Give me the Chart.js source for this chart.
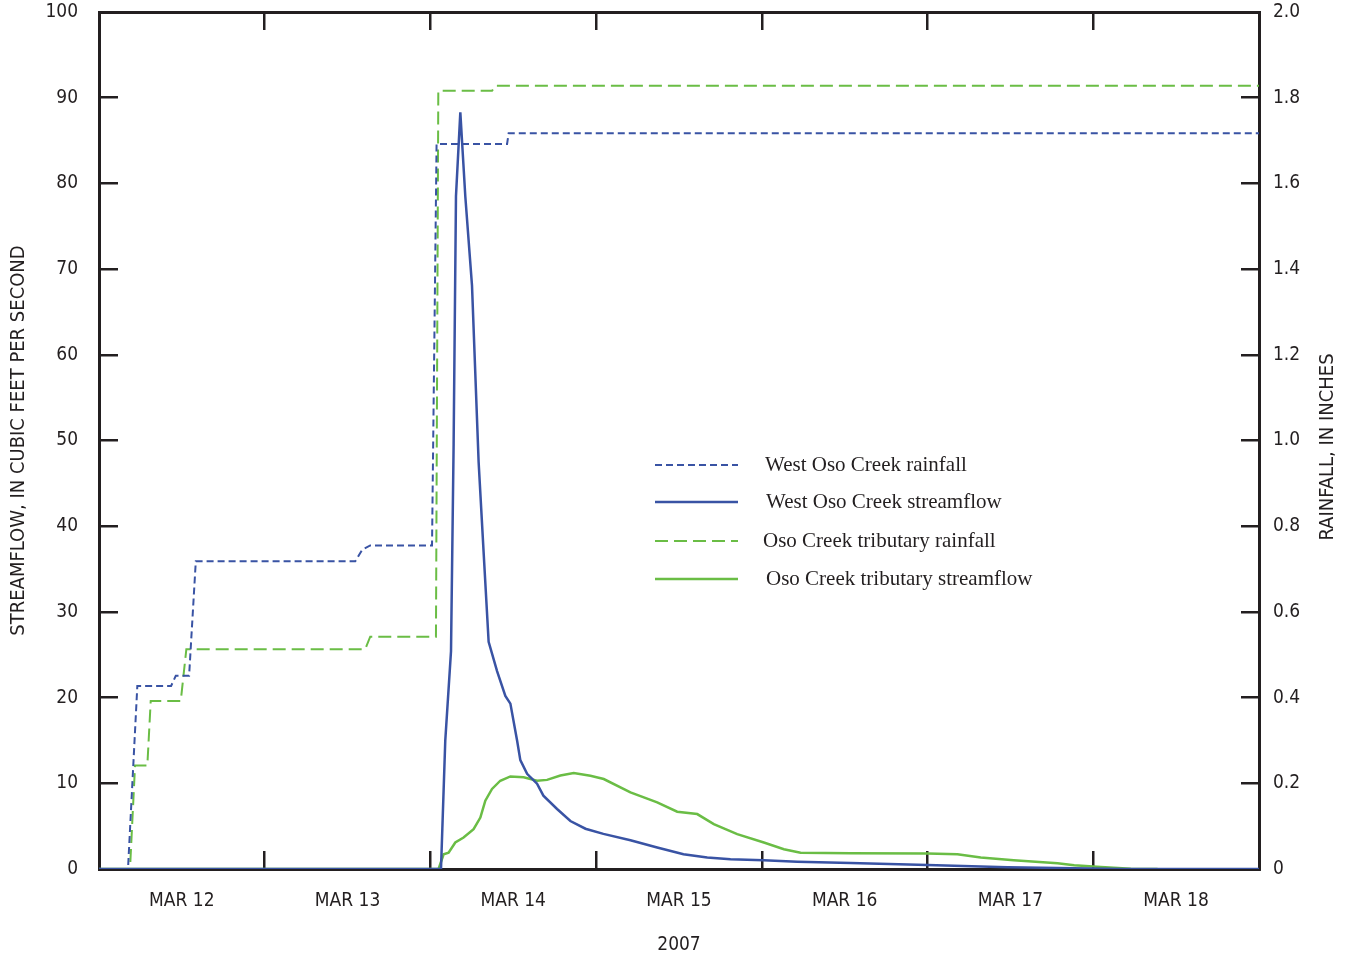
<!DOCTYPE html>
<html>
<head>
<meta charset="utf-8">
<title>West Oso Creek rainfall and streamflow, March 2007</title>
<script src="https://cdn.jsdelivr.net/npm/chart.js@4.4.1/dist/chart.umd.min.js"></script>
<style>
  html, body { margin: 0; padding: 0; background: #fff; }
  #wrap { position: relative; width: 1351px; height: 958px; }
</style>
</head>
<body>
<div id="wrap"><canvas id="flow"></canvas></div>
<script>
// hours since MAR 12 00:00
const dayLabels = ["MAR 12", "MAR 13", "MAR 14", "MAR 15", "MAR 16", "MAR 17", "MAR 18", ""];
const flowTickLabels = ["0", "10", "20", "30", "40", "50", "60", "70", "80", "90", "100"];
const rainTickLabels = ["0", "0.2", "0.4", "0.6", "0.8", "1.0", "1.2", "1.4", "1.6", "1.8", "2.0"];

const westRainHours = [0, 4.2, 5.55, 10.44, 11.12, 13.05, 14.02, 37.11, 38.12, 39.28, 48.23, 48.89, 59.1, 59.33, 168];
const westRainInches = [0, 0, 0.427, 0.427, 0.451, 0.451, 0.718, 0.718, 0.745, 0.755, 0.755, 1.692, 1.692, 1.717, 1.717];

const westFlowHours = [0, 49.53, 50.15, 50.98, 51.36, 51.7, 52.33, 53.05, 54.02, 54.98, 55.7, 56.43, 57.65, 58.85, 59.58, 60.55, 61.02, 62.0, 63.44, 64.36, 66.34, 68.27, 70.45, 73.05, 76.97, 80.84, 84.65, 88.09, 91.46, 96.25, 101.13, 108.86, 119.98, 131.57, 141.18, 148.43, 168];
const westFlowCfs = [0, 0, 15.0, 25.4, 49.6, 78.5, 88.3, 78.5, 68.1, 47.5, 37.0, 26.5, 23.1, 20.2, 19.3, 15.0, 12.7, 11.1, 9.95, 8.56, 7.0, 5.6, 4.7, 4.1, 3.36, 2.5, 1.72, 1.33, 1.13, 1.02, 0.86, 0.7, 0.47, 0.2, 0.1, 0, 0];

const tribRainHours = [0, 4.49, 5.22, 7.0, 7.49, 11.84, 12.65, 38.56, 39.28, 48.8, 49.14, 56.92, 57.4, 168];
const tribRainInches = [0, 0, 0.2415, 0.2415, 0.392, 0.392, 0.513, 0.513, 0.542, 0.542, 1.816, 1.816, 1.828, 1.828];

const tribFlowHours = [0, 49.18, 49.91, 50.63, 51.6, 52.8, 54.25, 55.23, 55.95, 56.92, 58.12, 59.58, 61.5, 63.44, 64.89, 66.82, 68.75, 71.17, 73.1, 76.97, 80.84, 83.74, 86.64, 89.04, 92.43, 96.29, 99.19, 101.61, 108.86, 119.98, 124.32, 127.7, 132.48, 138.82, 141.23, 145.09, 149.44, 153.31];
const tribFlowCfs = [0, 0, 1.72, 1.91, 3.09, 3.67, 4.65, 6.0, 7.97, 9.34, 10.3, 10.8, 10.7, 10.3, 10.4, 10.9, 11.2, 10.87, 10.5, 8.95, 7.78, 6.68, 6.41, 5.24, 4.07, 3.09, 2.31, 1.91, 1.83, 1.8, 1.72, 1.33, 1.02, 0.67, 0.43, 0.23, 0.04, 0];

const BLUE = "#3953a4";
const GREEN = "#6abd45";
const INK = "#231f20";
const SANS = "'Liberation Sans Narrow', 'DejaVu Sans Condensed', 'Roboto', sans-serif";
const SERIF = "'Liberation Serif', 'DejaVu Serif', serif";

function toPoints(xs, ys) {
  return xs.map((x, i) => ({ x: x, y: ys[i] }));
}

// fixed box sizes; tick padding must not leak into the layout
function fixSize(w, h) {
  return function (scale) {
    if (w !== null) scale.width = w;
    if (h !== null) scale.height = h;
    scale.paddingTop = 0;
    scale.paddingBottom = 0;
    scale.paddingLeft = 0;
    scale.paddingRight = 0;
  };
}

// legend sits inside the plot, drawn from the datasets
const insideLegend = {
  id: "insideLegend",
  afterDraw(chart) {
    const ctx = chart.ctx;
    const rows = [465, 502, 541, 579];
    const textX = [765, 766, 763, 766];
    ctx.save();
    chart.data.datasets.forEach((ds, i) => {
      ctx.beginPath();
      ctx.setLineDash(ds.borderDash || []);
      ctx.strokeStyle = ds.borderColor;
      ctx.lineWidth = ds.borderWidth;
      ctx.moveTo(655, rows[i]);
      ctx.lineTo(738, rows[i]);
      ctx.stroke();
      ctx.setLineDash([]);
      ctx.fillStyle = INK;
      ctx.font = "21px " + SERIF;
      ctx.textBaseline = "middle";
      ctx.textAlign = "left";
      ctx.fillText(ds.label, textX[i], rows[i]);
    });
    // right axis title reads bottom to top
    ctx.translate(1328, 447);
    ctx.rotate(-Math.PI / 2);
    ctx.font = "20px " + SANS;
    ctx.textAlign = "center";
    ctx.textBaseline = "middle";
    ctx.fillText("RAINFALL, IN INCHES", 0, 0);
    ctx.restore();
  },
};

const lineStyle = { pointRadius: 0, tension: 0, fill: false };

new Chart(document.getElementById("flow"), {
  type: "line",
  data: {
    datasets: [
      {
        ...lineStyle,
        label: "West Oso Creek rainfall",
        data: toPoints(westRainHours, westRainInches),
        borderColor: BLUE,
        backgroundColor: BLUE,
        borderWidth: 2,
        borderDash: [7, 4],
        yAxisID: "y1",
      },
      {
        ...lineStyle,
        label: "West Oso Creek streamflow",
        data: toPoints(westFlowHours, westFlowCfs),
        borderColor: BLUE,
        backgroundColor: BLUE,
        borderWidth: 2.5,
        yAxisID: "y",
      },
      {
        ...lineStyle,
        label: "Oso Creek tributary rainfall",
        data: toPoints(tribRainHours, tribRainInches),
        borderColor: GREEN,
        backgroundColor: GREEN,
        borderWidth: 2,
        borderDash: [13, 6],
        yAxisID: "y1",
      },
      {
        ...lineStyle,
        label: "Oso Creek tributary streamflow",
        data: toPoints(tribFlowHours, tribFlowCfs),
        borderColor: GREEN,
        backgroundColor: GREEN,
        borderWidth: 2.5,
        yAxisID: "y",
      },
    ],
  },
  options: {
    responsive: true,
    maintainAspectRatio: false,
    animation: false,
    layout: { padding: 0 },
    plugins: {
      legend: { display: false },
      tooltip: { enabled: false },
    },
    scales: {
      x: {
        type: "linear",
        position: "bottom",
        min: 0,
        max: 168,
        afterFit: fixSize(null, 89),
        ticks: {
          stepSize: 24,
          autoSkip: false,
          maxRotation: 0,
          labelOffset: 82.8,
          padding: 39,
          color: INK,
          font: { family: SANS, size: 19 },
          callback: (v, i) => dayLabels[i],
        },
        grid: { drawOnChartArea: false, tickLength: -18, color: INK, lineWidth: 2.5 },
        border: { display: true, color: INK, width: 3 },
        title: {
          display: true,
          text: "2007",
          color: INK,
          font: { family: SANS, size: 19 },
          padding: { top: 0, bottom: 2 },
        },
      },
      xTop: {
        type: "linear",
        position: "top",
        min: 0,
        max: 168,
        afterFit: fixSize(null, 12),
        ticks: { stepSize: 24, display: false },
        grid: { drawOnChartArea: false, tickLength: -18, color: INK, lineWidth: 2.5 },
        border: { display: true, color: INK, width: 3 },
      },
      y: {
        position: "left",
        min: 0,
        max: 100,
        afterFit: fixSize(99, null),
        ticks: {
          stepSize: 10,
          padding: 40,
          color: INK,
          font: { family: SANS, size: 19 },
          callback: (v, i) => flowTickLabels[i],
        },
        grid: { drawOnChartArea: false, tickLength: -19, color: INK, lineWidth: 2.5 },
        border: { display: true, color: INK, width: 3 },
        title: {
          display: true,
          text: "STREAMFLOW, IN CUBIC FEET PER SECOND",
          color: INK,
          font: { family: SANS, size: 20 },
          padding: { top: 7, bottom: 0 },
        },
      },
      y1: {
        position: "right",
        min: 0,
        max: 2,
        afterFit: fixSize(92, null),
        ticks: {
          stepSize: 0.2,
          padding: 32,
          color: INK,
          font: { family: SANS, size: 19 },
          callback: (v, i) => rainTickLabels[i],
        },
        grid: { drawOnChartArea: false, tickLength: -18, color: INK, lineWidth: 2.5 },
        border: { display: true, color: INK, width: 3 },
      },
    },
  },
  plugins: [insideLegend],
});
</script>
</body>
</html>
